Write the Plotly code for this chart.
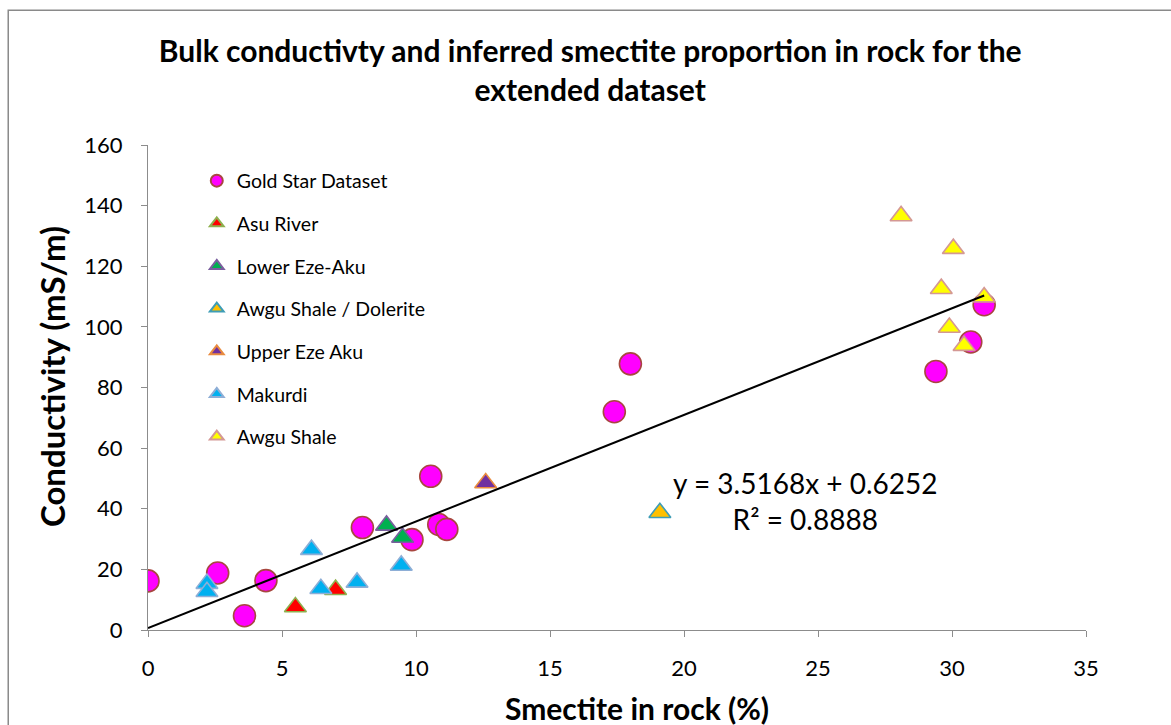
import plotly.graph_objects as go

# ---- data ----
gold_x = [0.0, 2.6, 3.6, 4.4, 8.0, 9.85, 10.55, 10.85, 11.15, 17.4, 18.0, 29.4, 30.7, 31.2]
gold_y = [16.2, 18.8, 4.7, 16.3, 33.8, 29.8, 50.7, 34.8, 33.2, 72.0, 87.8, 85.3, 95.0, 107.3]

asu_x = [5.5, 7.0]
asu_y = [7.6, 13.3]

lower_x = [8.9, 9.5]
lower_y = [34.5, 30.5]

dolerite_x = [19.1]
dolerite_y = [38.7]

upper_x = [12.6]
upper_y = [48.5]

makurdi_x = [2.2, 2.2, 6.1, 6.45, 7.8, 9.45]
makurdi_y = [15.3, 12.6, 26.5, 13.6, 15.7, 21.3]

awgu_x = [28.1, 30.05, 29.6, 31.2, 29.9, 30.45]
awgu_y = [136.6, 125.8, 112.6, 109.8, 99.8, 93.8]

slope = 3.5168
intercept = 0.6252
r2 = 0.8888

x_ticks = [0, 5, 10, 15, 20, 25, 30, 35]
y_ticks = [0, 20, 40, 60, 80, 100, 120, 140, 160]

FONT = "Lato"

series = [
    ("Gold Star Dataset", gold_x, gold_y, "circle", "#FF00FF", "#A8473F", 22),
    ("Asu River", asu_x, asu_y, "triangle-up", "#FF0000", "#8EB04E", 19),
    ("Lower Eze-Aku", lower_x, lower_y, "triangle-up", "#00B050", "#7A5F9E", 19),
    ("Awgu Shale / Dolerite", dolerite_x, dolerite_y, "triangle-up", "#FFC000", "#3E9DB6", 19),
    ("Upper Eze Aku", upper_x, upper_y, "triangle-up", "#7030A0", "#E98B3F", 19),
    ("Makurdi", makurdi_x, makurdi_y, "triangle-up", "#00B0F0", "#8EAED6", 19),
    ("Awgu Shale", awgu_x, awgu_y, "triangle-up", "#FFFF00", "#D49894", 19),
]

fig = go.Figure()
for i, (name, xs, ys, sym, fill, line, size) in enumerate(series):
    fig.add_trace(go.Scatter(
        x=xs, y=ys, mode="markers", name=name, legendgroup=f"g{i}",
        marker=dict(symbol=sym, size=size, color=fill, line=dict(color=line, width=1.6)),
    ))

all_x = [v for s in series for v in s[1]]
tx = [0, max(all_x)]
ty = [slope * v + intercept for v in tx]
fig.add_trace(go.Scatter(x=tx, y=ty, mode="lines", line=dict(color="black", width=2),
                         showlegend=False, hoverinfo="skip"))

fig.add_annotation(
    x=24.5, y=42.6, xref="x", yref="y",
    text=f"y = {slope}x + {intercept}<br>R² = {r2}",
    showarrow=False, align="center", xanchor="center", yanchor="middle",
    font=dict(family=FONT, size=28, color="black"),
)

# axis titles (placed as in the reference)
fig.add_annotation(
    x=-0.1023, y=0.5216, xref="paper", yref="paper",
    text="<b>Conductivity (mS/m)</b>", textangle=-90, showarrow=False,
    xanchor="center", yanchor="middle",
    font=dict(family=FONT, size=33, color="black"),
)
fig.add_annotation(
    x=0.5213, y=-0.1608, xref="paper", yref="paper",
    text="<b>Smectite in rock (%)</b>", showarrow=False,
    xanchor="center", yanchor="middle",
    font=dict(family=FONT, size=30, color="black"),
)

fig.add_shape(type="rect", xref="paper", yref="paper",
              x0=-0.149, x1=1.12, y0=-0.25, y1=1.278,
              line=dict(color="#8A8A8A", width=1.5), fillcolor="rgba(0,0,0,0)", layer="below")

fig.update_layout(
    width=1171, height=725,
    margin=dict(l=148, r=85, t=145, b=95),
    paper_bgcolor="white", plot_bgcolor="white",
    font=dict(family=FONT, color="black"),
    title=dict(
        text="<b>Bulk conductivty and inferred smectite proportion in rock for the<br>extended dataset</b>",
        x=0.504, xref="container", xanchor="center",
        y=0.915, yref="container", yanchor="middle",
        font=dict(family=FONT, size=30, color="black"),
    ),
    xaxis=dict(
        range=[0, 35], tickvals=x_ticks, ticktext=[str(v) for v in x_ticks],
        showgrid=False, zeroline=False, showline=True, linecolor="#8C8C8C", linewidth=1.3,
        ticks="outside", ticklen=6, tickcolor="#8C8C8C",
        tickfont=dict(family=FONT, size=22, color="black"),
        ticklabelstandoff=12,
    ),
    yaxis=dict(
        range=[0, 160], tickvals=y_ticks, ticktext=[str(v) for v in y_ticks],
        showgrid=False, zeroline=False, showline=True, linecolor="#8C8C8C", linewidth=1.3,
        ticks="outside", ticklen=6, tickcolor="#8C8C8C",
        tickfont=dict(family=FONT, size=22, color="black"),
        ticklabelstandoff=14,
    ),
    legend=dict(
        x=0.052, y=0.966, xanchor="left", yanchor="top",
        font=dict(family=FONT, size=19.5, color="black"),
        bgcolor="rgba(0,0,0,0)", itemsizing="constant", itemwidth=30,
        tracegroupgap=14.3,
    ),
    showlegend=True,
)

fig.write_html("out.html")
